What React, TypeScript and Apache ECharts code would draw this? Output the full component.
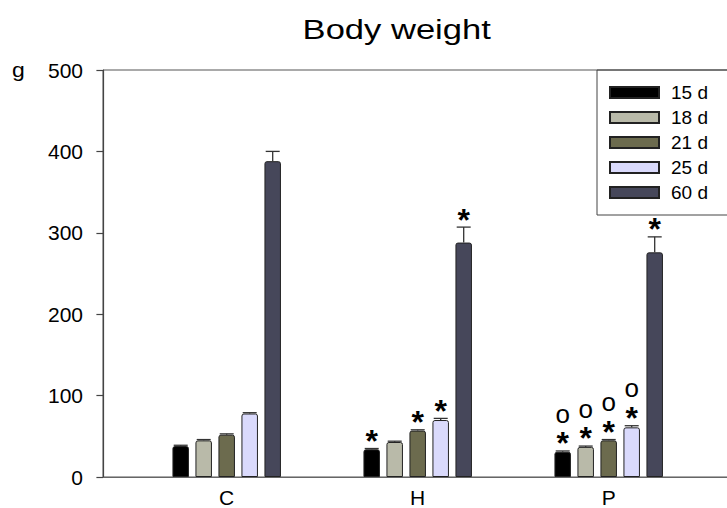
import React, { useEffect, useRef } from "react";
import * as echarts from "echarts";

const categories = ["C", "H", "P"];
const seriesNames = ["15 d", "18 d", "21 d", "25 d", "60 d"];
const colors = ["#000000", "#b9baa9", "#6c6b4e", "#dadafc", "#46475a"];

// mean body weight (g) per group C, H, P
const v15 = [38, 34, 31];
const v18 = [45, 43, 37];
const v21 = [52, 57, 45];
const v25 = [78, 70, 61];
const v60 = [388, 288, 276];

// error (upper) per group
const e15 = [1, 1, 1];
const e18 = [1, 1, 1];
const e21 = [1, 1, 1];
const e25 = [1, 2, 2];
const e60 = [12, 19, 19];

// significance marks per group
const m15 = ["", "*", "*o"];
const m18 = ["", "", "*o"];
const m21 = ["", "*", "*o"];
const m25 = ["", "*", "*o"];
const m60 = ["", "*", "*"];

const yMin = 0;
const yMax = 500;
const yInterval = 100;

const values = [v15, v18, v21, v25, v60];
const errors = [e15, e18, e21, e25, e60];
const marks = [m15, m18, m21, m25, m60];

const FONT = "'Liberation Sans', Arial, Helvetica, sans-serif";

export default function App() {
  const ref = useRef<HTMLDivElement>(null);

  useEffect(() => {
    if (!ref.current) return;
    const chart = echarts.init(ref.current, undefined, { renderer: "svg" });

    const gridLeft = 103;
    const band = 191;
    const firstCenter = 226.7;
    const gridWidth = 660;
    const xMin = 1 - (firstCenter - gridLeft) / band;
    const xMax = xMin + gridWidth / band;
    const pitch = 23;

    const barSeries = seriesNames.map((name, s) => ({
      type: "bar",
      name,
      data: categories.map((_, i) => [i + 1, values[s][i]]),
      barWidth: 16.5,
      barGap: "39.4%",
      itemStyle: {
        color: colors[s],
        borderColor: "#222",
        borderWidth: 1,
        borderRadius: [2, 2, 0, 0],
      },
      z: 2,
    }));

    const errSeries = seriesNames.map((name, s) => ({
      type: "custom",
      name: "err " + name,
      data: categories.map((_, i) => [i + 1, values[s][i], errors[s][i]]),
      z: 3,
      renderItem: (params: any, api: any) => {
        const x = api.value(0);
        const v = api.value(1);
        const e = api.value(2);
        const base = api.coord([x, v]);
        const top = api.coord([x, v + e]);
        const px = base[0] + (s - 2) * pitch;
        const children: any[] = [
          {
            type: "line",
            shape: { x1: px, y1: base[1], x2: px, y2: top[1] },
            style: { stroke: "#333", lineWidth: 1.3 },
          },
          {
            type: "line",
            shape: { x1: px - 7, y1: top[1], x2: px + 7, y2: top[1] },
            style: { stroke: "#333", lineWidth: 1.3 },
          },
        ];
        const mk = marks[s][params.dataIndex];
        const starY = top[1] - 15;
        if (mk.indexOf("*") >= 0) {
          children.push({
            type: "text",
            style: {
              text: "*",
              x: px,
              y: starY + 7.4,
              align: "center",
              verticalAlign: "middle",
              fontSize: 32,
              fontWeight: "bold",
              fontFamily: FONT,
              fill: "#000",
            },
          });
        }
        if (mk.indexOf("o") >= 0) {
          children.push({
            type: "text",
            style: {
              text: "o",
              x: px,
              y: starY - 20 - 2.3,
              align: "center",
              verticalAlign: "middle",
              fontSize: 26,
              fontFamily: FONT,
              fill: "#000",
            },
          });
        }
        return { type: "group", children };
      },
    }));

    chart.setOption({
      animation: false,
      backgroundColor: "#ffffff",
      textStyle: { fontFamily: FONT },
      graphic: [
        {
          type: "text",
          x: 396.7,
          y: 30,
          scaleX: 1.28,
          style: {
            text: "Body weight",
            x: 0,
            y: 0,
            align: "center",
            verticalAlign: "middle",
            fontSize: 27,
            fontFamily: FONT,
            fill: "#000",
          },
        },
        {
          type: "text",
          x: 12,
          y: 70.3,
          scaleX: 1.15,
          style: {
            text: "g",
            align: "left",
            verticalAlign: "middle",
            fontSize: 20,
            fontFamily: FONT,
            fill: "#000",
          },
        },
      ],
      legend: {
        data: seriesNames,
        orient: "vertical",
        left: 597,
        top: 70,
        padding: [13, 60, 13, 12],
        itemWidth: 49,
        itemHeight: 11,
        itemGap: 6,
        icon: "rect",
        borderColor: "#444",
        borderWidth: 1,
        selectedMode: false,
        textStyle: {
          fontSize: 19,
          color: "#000",
          fontFamily: FONT,
          padding: [0, 0, 0, 7],
          lineHeight: 18,
        },
      },
      grid: {
        left: gridLeft,
        top: 70,
        width: gridWidth,
        height: 407,
        show: true,
        borderColor: "#555",
        borderWidth: 1,
        backgroundColor: "transparent",
        outerBoundsMode: "none",
      },
      xAxis: {
        type: "value",
        min: xMin,
        max: xMax,
        axisLine: { show: true, onZero: false, lineStyle: { color: "#666", width: 1.2 } },
        axisTick: { show: false },
        splitLine: { show: false },
        axisLabel: {
          customValues: [1, 2, 3],
          formatter: (v: number) => categories[Math.round(v) - 1] ?? "",
          fontSize: 21,
          color: "#000",
          margin: 10,
          fontFamily: FONT,
        },
      },
      yAxis: {
        type: "value",
        min: yMin,
        max: yMax,
        interval: yInterval,
        axisLine: { show: true, lineStyle: { color: "#444", width: 1.2 } },
        axisTick: { show: true, inside: false, length: 6.6, lineStyle: { color: "#444", width: 1.2 } },
        splitLine: { show: false },
        axisLabel: { fontSize: 21, color: "#000", margin: 20, fontFamily: FONT },
      },
      series: [...barSeries, ...errSeries],
    });

    return () => chart.dispose();
  }, []);

  return <div ref={ref} style={{ width: 727, height: 508, position: "absolute", left: 0, top: 0 }} />;
}
